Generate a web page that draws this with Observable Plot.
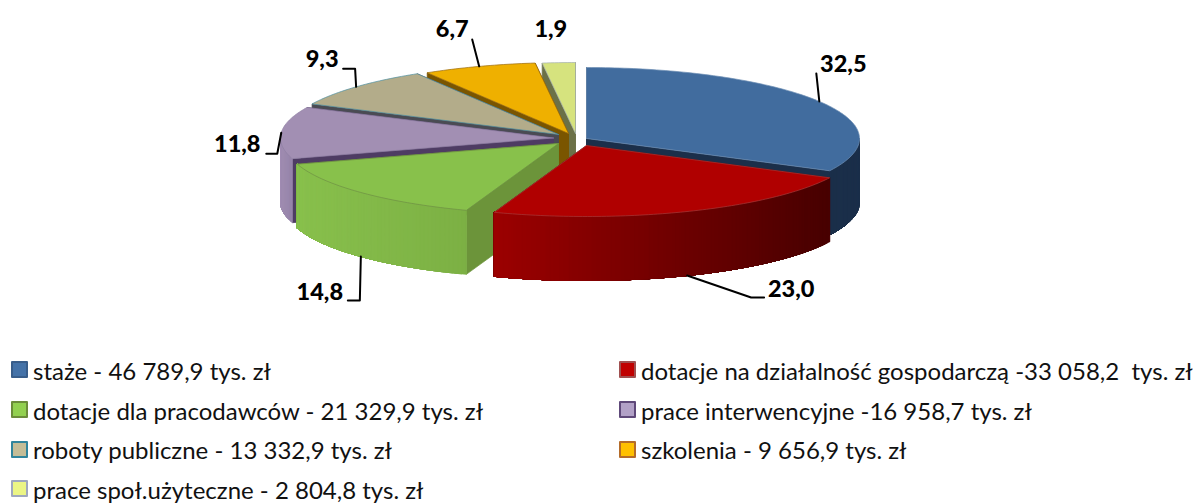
<!DOCTYPE html>
<html lang="pl">
<head>
<meta charset="utf-8">
<script src="https://cdn.jsdelivr.net/npm/d3@7"></script>
<script src="https://cdn.jsdelivr.net/npm/@observablehq/plot@0.6"></script>
<style>
html,body{margin:0;padding:0;background:#fff;overflow:hidden}
#chart svg{display:block}
#legend{display:grid;grid-template-columns:608px 596px;grid-auto-rows:39.7px;padding-left:11px;height:153px;font-family:Lato,sans-serif;font-size:24px;color:#111;white-space:pre}
.it{display:flex;align-items:center}
.it span+span{position:relative;top:0.5px}
.sw{box-sizing:border-box;width:17px;height:17px;border-width:2px;border-style:solid;margin-right:5px;flex:none;border-radius:1px}
</style>
</head>
<body>
<div id="chart"></div>
<div id="legend"></div>
<script>
// ---- data ----
const categories = ["staże","dotacje na działalność gospodarczą","dotacje dla pracodawców","prace interwencyjne","roboty publiczne","szkolenia","prace społ.użyteczne"];
const values = [46789.9,33058.2,21329.9,16958.7,13332.9,9656.9,2804.8];
const legendLabels = ["staże - 46 789,9 tys. zł","dotacje na działalność gospodarczą -33 058,2  tys. zł","dotacje dla pracodawców - 21 329,9 tys. zł","prace interwencyjne -16 958,7 tys. zł","roboty publiczne - 13 332,9 tys. zł","szkolenia - 9 656,9 tys. zł","prace społ.użyteczne - 2 804,8 tys. zł"];

// ---- styles ----
const topFill   = ["#416c9e","#b00000","#88c14b","#a28fb3","#b3ac8a","#efb000","#d6e37e"];
const topEdge   = ["#6f8fb5","#a83a3a","#6f8f45","#8f7fa3","#4e8fa0","#9a6a10","#a5b0b0"];
const edgeWall  = ["#1b2f4a","#5a0000","#6c943a","#4e3c63","#4a4b53","#7a5500","#6b7147"];
const rimLeft   = ["#1b2f4a","#9b0000","#88c04c","#a08db2","#4a4b53","#7a5500","#6b7147"];
const rimRight  = ["#1b2f4a","#470000","#7cb044","#9583a8","#4a4b53","#7a5500","#6b7147"];
const swFill    = ["#4472a8","#c00000","#92d050","#b2a1c7","#c4bd97","#ffc000","#ebf585"];
const swEdge    = ["#385d8a","#a05050","#6b8c3a","#5f497a","#31859c","#b46c2a","#9fa8bf"];
// layout: apex of each exploded slice, ellipse radii, wall depth
const apexX = [586,586,558,553,558,568,575];
const apexY = [138,145,143,137.5,134,133,133];
const rx = 273, ry = 71, depth = 64;
const drawOrder = [6,5,4,3,0,2,1];
// label placement relative to rim anchor
const leaderPath = [
  [[-3,-28]],
  [[64,22],[77,22]],
  [[-1,44],[-13,44]],
  [[-4,21],[-15,21]],
  [[-1,-18],[-13,-18]],
  [[-7,-27]],
  []
];
const labelOffset = [[24,-37],[104,14],[-41,36],[-44,12],[-34,-27],[-27,-37],[-8,-33]];

// ---- geometry from the values ----
const total = d3.sum(values);
const cum = d3.cumsum(values);
const ang = i => [(i ? cum[i-1] : 0)/total*360, cum[i]/total*360];
const rad = d => d*Math.PI/180;
const rim = (i,a,dy=0) => ({x:apexX[i]+rx*Math.sin(rad(a)), y:apexY[i]-ry*Math.cos(rad(a))+dy});
const faces = [];
let fid = 0;
function face(pts, fill, stroke){
  const id = fid++;
  [...pts, pts[0]].forEach(p => faces.push({f:id,x:p.x,y:p.y,fill,stroke}));
}
function arc(i,a0,a1,dy=0){
  const n = Math.max(2,Math.ceil(Math.abs(a1-a0)));
  return d3.range(n+1).map(k => rim(i,a0+(a1-a0)*k/n,dy));
}
for (const i of drawOrder){
  const [a0,a1] = ang(i);
  const A = {x:apexX[i],y:apexY[i]}, Ad = {x:A.x,y:A.y+depth};
  const e1 = rim(i,a1), s1 = rim(i,a0);
  face([A,e1,{x:e1.x,y:e1.y+depth},Ad], edgeWall[i], edgeWall[i]);
  face([A,s1,{x:s1.x,y:s1.y+depth},Ad], edgeWall[i], edgeWall[i]);
  // front rim wall: overlapping bands carry the shading without seams
  const f0 = Math.max(a0,90), f1 = Math.min(a1,270);
  if (f1>f0){
    const xs = [rim(i,f0).x, rim(i,f1).x];
    const lo = Math.min(...xs), hi = Math.max(...xs);
    const n = Math.ceil(f1-f0);
    for (let k=0;k<n;k++){
      const b0 = f0+(f1-f0)*k/n, b1 = f0+(f1-f0)*(k+1)/n;
      const t = (Math.min(rim(i,b0).x,rim(i,b1).x)-lo)/(hi-lo);
      const c = d3.interpolateRgb(rimLeft[i],rimRight[i])(t);
      face([...arc(i,b0,f1), ...arc(i,f1,b0,depth)], c, c);
    }
  }
  face([A,...arc(i,a0,a1)], topFill[i], topEdge[i]);
}
const leaders = [], labels = [];
values.forEach((v,i)=>{
  const [a0,a1] = ang(i), m = (a0+a1)/2;
  const front = m>90 && m<270;
  const p = rim(i,m,front?depth:0);
  if (leaderPath[i].length){
    leaders.push({k:i,x:p.x,y:p.y});
    leaderPath[i].forEach(o=>leaders.push({k:i,x:p.x+o[0],y:p.y+o[1]}));
  }
  labels.push({x:p.x+labelOffset[i][0],y:p.y+labelOffset[i][1],t:(v/total*100).toFixed(1).replace(".",",")});
});

const chart = Plot.plot({
  width:1204,height:350,margin:0,
  x:{domain:[0,1204],range:[0,1204],axis:null},
  y:{domain:[0,350],range:[0,350],axis:null},
  color:{type:"identity"},
  marks:[
    Plot.line(faces,{x:"x",y:"y",z:"f",fill:"fill",stroke:"stroke",strokeWidth:0.7,curve:"linear"}),
    Plot.line(leaders,{x:"x",y:"y",z:"k",stroke:"#000",strokeWidth:2,curve:"linear"}),
    Plot.text(labels,{x:"x",y:"y",text:"t",fontFamily:"Lato, sans-serif",fontWeight:"900",fontSize:23.5,fill:"#000"})
  ]
});
document.getElementById("chart").append(chart);

const lg = document.getElementById("legend");
legendLabels.forEach((t,i)=>{
  const it = document.createElement("div"); it.className="it";
  const s = document.createElement("span"); s.className="sw"; s.style.background=swFill[i]; s.style.borderColor=swEdge[i];
  const l = document.createElement("span"); l.textContent=t;
  it.append(s,l); lg.append(it);
});
</script>
</body>
</html>
